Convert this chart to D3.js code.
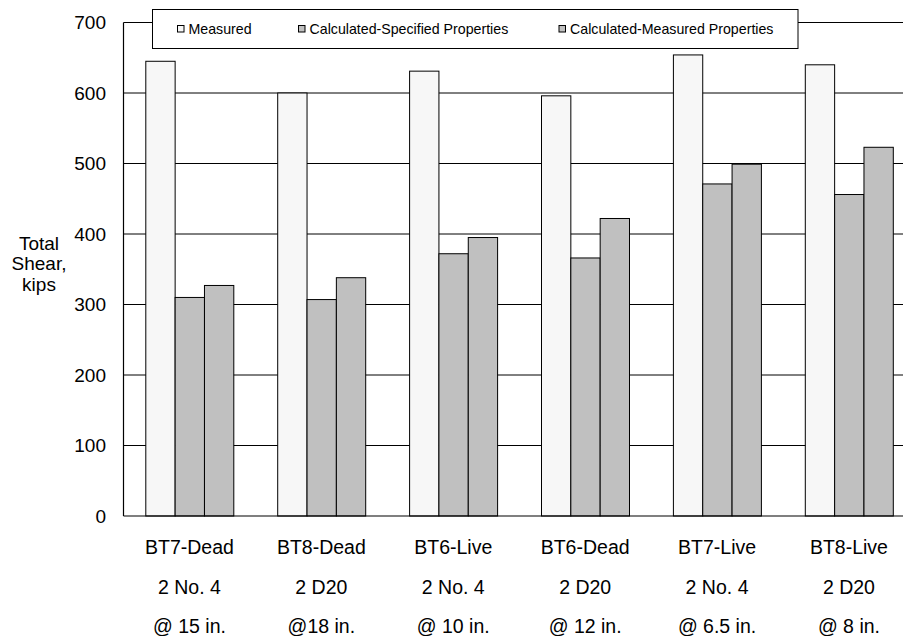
<!DOCTYPE html>
<html>
<head>
<meta charset="utf-8">
<script src="https://cdn.jsdelivr.net/npm/d3@7"></script>
<style>
  html, body { margin: 0; padding: 0; background: #fff; }
  svg { display: block; font-family: "Liberation Sans", Arial, sans-serif; }
</style>
</head>
<body>
<svg id="chart" width="903" height="636"></svg>
<script>
// ---- data ----
const categories = ["BT7-Dead", "BT8-Dead", "BT6-Live", "BT6-Dead", "BT7-Live", "BT8-Live"];
const categoryLine2 = ["2 No. 4", "2 D20", "2 No. 4", "2 D20", "2 No. 4", "2 D20"];
const categoryLine3 = ["@ 15 in.", "@18 in.", "@ 10 in.", "@ 12 in.", "@ 6.5 in.", "@ 8 in."];
const seriesNames = ["Measured", "Calculated-Specified Properties", "Calculated-Measured Properties"];
const measured = [645, 600, 631, 596, 654, 640];
const calcSpecified = [310, 307, 372, 366, 471, 456];
const calcMeasured = [327, 338, 395, 422, 499, 523];
const yTicks = [0, 100, 200, 300, 400, 500, 600, 700];
const yTitle = ["Total", "Shear,", "kips"];

const seriesValues = [measured, calcSpecified, calcMeasured];
const seriesFill = ["#f7f7f7", "#c0c0c0", "#c0c0c0"];

const svg = d3.select("#chart");
const plotLeft = 123.5, plotTop = 22.5, plotBottom = 516, step = 131.9;
const plotRight = plotLeft + step * categories.length;

const x0 = d3.scaleBand().domain(categories).range([plotLeft, plotRight]).padding(0);
const x1 = d3.scaleBand().domain(seriesNames).range([22.3, 22.3 + 88]).padding(0);
const y = d3.scaleLinear().domain([0, 700]).range([plotBottom, plotTop]);

// gridlines
svg.append("g").selectAll("line").data(yTicks.filter(v => v > 0)).join("line")
  .attr("x1", plotLeft).attr("x2", plotRight)
  .attr("y1", d => y(d)).attr("y2", d => y(d))
  .attr("stroke", "#000").attr("stroke-width", 1);

// bars
const rows = categories.map((c, i) => ({ cat: c, vals: seriesNames.map((s, j) => ({ s, j, v: seriesValues[j][i] })) }));
svg.append("g").selectAll("g").data(rows).join("g")
  .attr("transform", d => `translate(${x0(d.cat)},0)`)
  .selectAll("rect").data(d => d.vals).join("rect")
  .attr("x", d => x1(d.s))
  .attr("width", x1.bandwidth())
  .attr("y", d => y(d.v))
  .attr("height", d => y(0) - y(d.v))
  .attr("fill", d => seriesFill[d.j])
  .attr("stroke", "#000").attr("stroke-width", 1);

// axes lines
svg.append("line").attr("x1", plotLeft).attr("x2", plotRight).attr("y1", y(0)).attr("y2", y(0))
  .attr("stroke", "#000").attr("stroke-width", 1.2);
svg.append("line").attr("x1", plotLeft).attr("x2", plotLeft).attr("y1", y(700)).attr("y2", y(0))
  .attr("stroke", "#000").attr("stroke-width", 1.2);

// y tick labels
const yAxis = d3.axisLeft(y).tickValues(yTicks).tickSize(0).tickPadding(0);
const gy = svg.append("g").attr("transform", `translate(106,0)`).call(yAxis);
gy.select(".domain").remove();
gy.selectAll("text").attr("font-size", 19).attr("fill", "#000")
  .attr("font-family", "'Liberation Sans', Arial, sans-serif");

// y title
svg.append("text").attr("text-anchor", "middle").attr("font-size", 19)
  .selectAll("tspan").data(yTitle).join("tspan")
  .attr("x", 39).attr("y", (d, i) => 249.5 + i * 20.5).text(d => d);

// category labels
const lines = [categories, categoryLine2, categoryLine3];
const baselines = [554, 594, 633];
lines.forEach((arr, li) => {
  svg.append("g").selectAll("text").data(arr).join("text")
    .attr("x", (d, i) => x0(categories[i]) + x0.bandwidth() / 2)
    .attr("y", baselines[li])
    .attr("text-anchor", "middle").attr("font-size", 19.5)
    .text(d => d);
});

// legend
svg.append("rect").attr("x", 152.5).attr("y", 9.5).attr("width", 645.5).attr("height", 39)
  .attr("fill", "#fff").attr("stroke", "#000").attr("stroke-width", 1);
const legX = [188.5, 309.5, 570];
const lg = svg.append("g").selectAll("g").data(seriesNames).join("g")
  .attr("transform", (d, i) => `translate(${legX[i]},0)`);
lg.append("rect").attr("x", -11).attr("y", 25.5).attr("width", 6.5).attr("height", 6.5)
  .attr("fill", (d, i) => seriesFill[i]).attr("stroke", "#000").attr("stroke-width", 1);
lg.append("text").attr("x", 0).attr("y", 33.5).attr("font-size", 14.2).text(d => d);
</script>
</body>
</html>
